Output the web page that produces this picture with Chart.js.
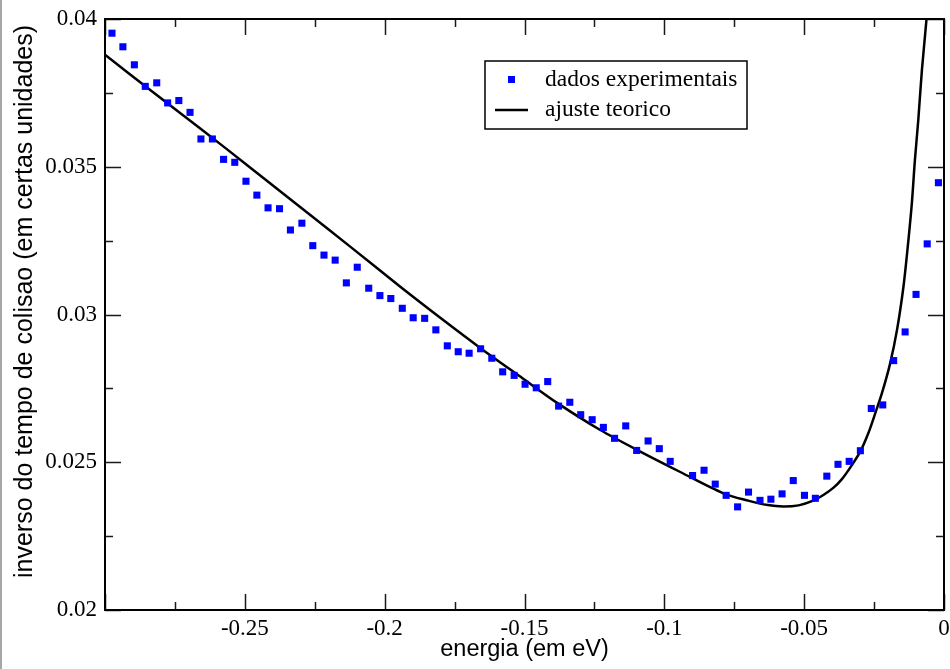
<!DOCTYPE html>
<html>
<head>
<meta charset="utf-8"/>
<title>inverso do tempo de colisao</title>
<script src="https://cdn.jsdelivr.net/npm/chart.js@4.4.0/dist/chart.umd.min.js"></script>
<style>
  html, body { margin: 0; padding: 0; background: #fff; }
  .quadro { position: relative; width: 950px; height: 669px; }
  .quadro::before { content: ''; position: absolute; left: 0; top: 0; bottom: 0; width: 2px; background: #a6a6a6; }
</style>
</head>
<body>
<div class="quadro"><canvas id="grafico" width="950" height="669"></canvas></div>
<script>
// dados experimentais
var energia = [
  -0.2975, -0.2936, -0.2895, -0.2856, -0.2815, -0.2776, -0.2736, -0.2696, -0.2657, -0.2616,
  -0.2576, -0.2536, -0.2496, -0.2457, -0.2417, -0.2376, -0.2337, -0.2296, -0.2257, -0.2217,
  -0.2177, -0.2137, -0.2098, -0.2057, -0.2017, -0.1978, -0.1937, -0.1898, -0.1857, -0.1817,
  -0.1776, -0.1737, -0.1698, -0.1657, -0.1617, -0.1578, -0.1537, -0.1498, -0.1458, -0.1417,
  -0.1378, -0.1338, -0.1299, -0.1258, -0.1218, -0.1178, -0.1138, -0.1099, -0.1058, -0.1018,
  -0.0979, -0.0899, -0.0858, -0.0818, -0.0779, -0.0738, -0.0699, -0.0658, -0.0619, -0.0579,
  -0.0539, -0.0499, -0.0460, -0.0419, -0.0379, -0.0339, -0.0299, -0.0260, -0.0219, -0.0180,
  -0.0139, -0.0100, -0.0060, -0.0020
];
var inverso = [
  0.03952, 0.03906, 0.03845, 0.03772, 0.03784, 0.03716, 0.03724, 0.03684, 0.03594, 0.03594,
  0.03525, 0.03515, 0.03451, 0.03404, 0.03361, 0.03358, 0.03286, 0.03309, 0.03233, 0.03201,
  0.03184, 0.03107, 0.03160, 0.03089, 0.03064, 0.03054, 0.03021, 0.02989, 0.02987, 0.02948,
  0.02894, 0.02874, 0.02869, 0.02884, 0.02852, 0.02806, 0.02794, 0.02764, 0.02752, 0.02773,
  0.02690, 0.02703, 0.02661, 0.02644, 0.02618, 0.02581, 0.02623, 0.02540, 0.02572, 0.02546,
  0.02503, 0.02455, 0.02473, 0.02426, 0.02388, 0.02349, 0.02399, 0.02371, 0.02375, 0.02393,
  0.02438, 0.02388, 0.02378, 0.02453, 0.02493, 0.02503, 0.02539, 0.02682, 0.02694, 0.02844,
  0.02941, 0.03068, 0.03239, 0.03446
];

// ajuste teorico
var energiaAjuste = [
  -0.3, -0.2836, -0.2657, -0.2479, -0.23, -0.2121, -0.1943, -0.18, -0.1657, -0.1514,
  -0.1382, -0.1229, -0.1086, -0.0943, -0.0789, -0.0700, -0.0630, -0.0575, -0.0520, -0.0470,
  -0.0430, -0.0395, -0.0365, -0.0336, -0.0300, -0.0270, -0.0245, -0.0220, -0.0193, -0.0168,
  -0.0145, -0.0129, -0.0115, -0.0104, -0.0092, -0.0079, -0.00625, -0.0058
];
var inversoAjuste = [
  0.03879, 0.03758, 0.03628, 0.03496, 0.03362, 0.03228, 0.03093, 0.02988, 0.02886, 0.02789,
  0.02700, 0.02609, 0.02536, 0.02467, 0.02395, 0.02370, 0.02355, 0.02350, 0.02354, 0.02369,
  0.02390, 0.02414, 0.02443, 0.02481, 0.02535, 0.02600, 0.02668, 0.02740, 0.02833, 0.02948,
  0.03094, 0.03235, 0.03376, 0.03523, 0.03658, 0.03827, 0.04000, 0.04060
];

// marcas dos eixos
var ticksX = [-0.3, -0.25, -0.2, -0.15, -0.1, -0.05, 0];
var rotulosX = ['', '-0.25', '-0.2', '-0.15', '-0.1', '-0.05', '0'];
var menoresX = [-0.275, -0.225, -0.175, -0.125, -0.075, -0.025];
var ticksY = [0.02, 0.025, 0.03, 0.035, 0.04];
var rotulosY = ['0.02', '0.025', '0.03', '0.035', '0.04'];
var menoresY = [0.0225, 0.0275, 0.0325, 0.0375];

var pontos = energia.map(function (e, i) { return { x: e, y: inverso[i] }; });
var curva = energiaAjuste.map(function (e, i) { return { x: e, y: inversoAjuste[i] }; });

var serif = '"Liberation Serif", "DejaVu Serif", serif';
var sans = '"Liberation Sans", Arial, sans-serif';

// moldura, marcas para dentro, legenda e titulo do eixo y
var moldura = {
  id: 'moldura',
  afterDatasetsDraw: function (chart) {
    var ctx = chart.ctx, a = chart.chartArea;
    var sx = chart.scales.x, sy = chart.scales.y;
    var maior = 16, menor = 8;
    ctx.save();
    ctx.strokeStyle = '#1a1a1a';
    ctx.lineWidth = 1.5;
    ctx.beginPath();
    ticksX.forEach(function (v) {
      var p = Math.round(sx.getPixelForValue(v)) + 0.5;
      ctx.moveTo(p, a.bottom); ctx.lineTo(p, a.bottom - maior);
      ctx.moveTo(p, a.top); ctx.lineTo(p, a.top + maior);
    });
    menoresX.forEach(function (v) {
      var p = Math.round(sx.getPixelForValue(v)) + 0.5;
      ctx.moveTo(p, a.bottom); ctx.lineTo(p, a.bottom - menor);
      ctx.moveTo(p, a.top); ctx.lineTo(p, a.top + menor);
    });
    ticksY.forEach(function (v) {
      var p = Math.round(sy.getPixelForValue(v)) + 0.5;
      ctx.moveTo(a.left, p); ctx.lineTo(a.left + maior, p);
      ctx.moveTo(a.right, p); ctx.lineTo(a.right - maior, p);
    });
    menoresY.forEach(function (v) {
      var p = Math.round(sy.getPixelForValue(v)) + 0.5;
      ctx.moveTo(a.left, p); ctx.lineTo(a.left + menor, p);
      ctx.moveTo(a.right, p); ctx.lineTo(a.right - menor, p);
    });
    ctx.stroke();

    ctx.strokeStyle = '#000';
    ctx.lineWidth = 2;
    ctx.strokeRect(a.left, a.top, a.right - a.left, a.bottom - a.top);

    // legenda
    var ds = chart.data.datasets;
    ctx.lineWidth = 1.5;
    ctx.fillStyle = '#fff';
    ctx.fillRect(485, 61, 262, 68);
    ctx.strokeRect(485, 61, 262, 68);
    ctx.fillStyle = ds[0].pointBackgroundColor;
    ctx.fillRect(508, 76, 7, 7);
    ctx.strokeStyle = ds[1].borderColor;
    ctx.lineWidth = ds[1].borderWidth;
    ctx.beginPath();
    ctx.moveTo(495, 110); ctx.lineTo(528, 110);
    ctx.stroke();
    ctx.fillStyle = '#000';
    ctx.font = '23.5px ' + serif;
    ctx.textAlign = 'left';
    ctx.textBaseline = 'middle';
    ctx.fillText(ds[0].label, 545, 80);
    ctx.fillText(ds[1].label, 545, 110);

    // titulo do eixo y
    ctx.translate(25, 301.5);
    ctx.rotate(-Math.PI / 2);
    ctx.textAlign = 'center';
    ctx.font = '25px ' + sans;
    ctx.fillText('inverso do tempo de colisao (em certas unidades)', 0, 0);
    ctx.restore();
  }
};

new Chart(document.getElementById('grafico').getContext('2d'), {
  type: 'scatter',
  data: {
    datasets: [
      {
        label: 'dados experimentais',
        data: pontos,
        showLine: false,
        pointStyle: 'rect',
        pointRadius: 5,
        pointBorderWidth: 0,
        pointBackgroundColor: '#0000ff',
        pointBorderColor: '#0000ff'
      },
      {
        label: 'ajuste teorico',
        data: curva,
        showLine: true,
        borderColor: '#000000',
        borderWidth: 2.5,
        pointRadius: 0,
        tension: 0.3,
        fill: false
      }
    ]
  },
  options: {
    responsive: false,
    animation: false,
    layout: { padding: { top: 19, right: 6, left: 0, bottom: 0 } },
    plugins: {
      legend: { display: false },
      tooltip: { enabled: false }
    },
    scales: {
      x: {
        type: 'linear',
        min: -0.3,
        max: 0,
        grid: { display: false, drawTicks: false },
        border: { display: false },
        afterBuildTicks: function (s) { s.ticks = ticksX.map(function (v) { return { value: v }; }); },
        afterFit: function (s) { s.height = 59; s.paddingLeft = 0; s.paddingRight = 0; },
        ticks: {
          padding: 5,
          maxRotation: 0,
          color: '#000',
          font: { family: serif, size: 23 },
          callback: function (v, i) { return rotulosX[i]; }
        },
        title: {
          display: true,
          text: 'energia (em eV)',
          color: '#000',
          font: { family: sans, size: 23.5 },
          padding: { top: 0, bottom: 5 }
        }
      },
      y: {
        type: 'linear',
        min: 0.02,
        max: 0.04,
        grid: { display: false, drawTicks: false },
        border: { display: false },
        afterBuildTicks: function (s) { s.ticks = ticksY.map(function (v) { return { value: v }; }); },
        afterFit: function (s) { s.width = 105; s.paddingTop = 0; s.paddingBottom = 0; },
        ticks: {
          padding: 8,
          color: '#000',
          font: { family: serif, size: 23 },
          callback: function (v, i) { return rotulosY[i]; }
        }
      }
    }
  },
  plugins: [moldura]
});
</script>
</body>
</html>
